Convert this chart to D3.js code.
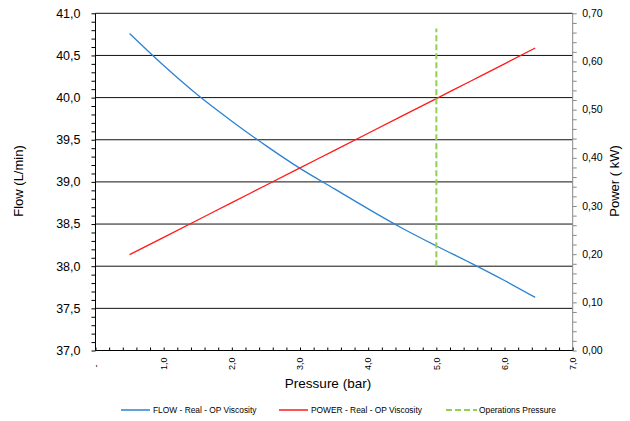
<!DOCTYPE html>
<html>
<head>
<meta charset="utf-8">
<script src="https://cdn.jsdelivr.net/npm/d3@7/dist/d3.min.js"></script>
<style>
  html, body { margin: 0; padding: 0; background: #fff; }
  svg { display: block; font-family: "Liberation Sans", Arial, sans-serif; }
</style>
</head>
<body>
<svg id="chart" width="630" height="421"></svg>
<script>
// ---- data ----
const pressure = [0.5, 1.0, 1.5, 2.0, 2.5, 3.0, 3.5, 4.0, 4.5, 5.0, 5.5, 6.0, 6.45];
const flow     = [40.76, 40.38, 40.03, 39.72, 39.43, 39.16, 38.92, 38.68, 38.45, 38.24, 38.04, 37.83, 37.63];
const power    = [0.199, 0.235, 0.271, 0.307, 0.343, 0.379, 0.415, 0.451, 0.487, 0.523, 0.559, 0.595, 0.628];
const opPressureX = [5.0, 5.0];
const opPressureY = [38.0, 40.82];
const xTicks = [0, 1, 2, 3, 4, 5, 6, 7];
const flowTicks = [37.0, 37.5, 38.0, 38.5, 39.0, 39.5, 40.0, 40.5, 41.0];
const powerTicks = [0.0, 0.1, 0.2, 0.3, 0.4, 0.5, 0.6, 0.7];
const seriesNames = ["FLOW - Real - OP Viscosity", "POWER - Real - OP Viscosity", "Operations Pressure"];
const xTitle = "Pressure (bar)";
const yTitle = "Flow (L/min)";
const y2Title = "Power ( kW)";

// ---- layout ----
const svg = d3.select("#chart");
const L = 95.5, R = 572.7, T = 13.3, B = 350.5;
const x = d3.scaleLinear().domain([0, 7]).range([L, R]);
const y = d3.scaleLinear().domain([37, 41]).range([B, T]);
const y2 = d3.scaleLinear().domain([0, 0.7]).range([B, T]);

const loc = d3.formatLocale({decimal: ",", thousands: ".", grouping: [3], currency: ["", ""]});
const f1 = loc.format(".1f"), f2 = loc.format(".2f");

const colFlow = "#2b83d3", colPower = "#ff1a1a", colOp = "#92d050";

// gridlines
svg.append("g").selectAll("line").data(flowTicks).join("line")
  .attr("x1", L).attr("x2", R)
  .attr("y1", d => y(d)).attr("y2", d => y(d))
  .attr("stroke", "#111").attr("stroke-width", 1);

// left axis
const gL = svg.append("g").attr("transform", `translate(${L},0)`);
gL.call(d3.axisLeft(y).tickValues(d3.range(37, 41.0001, 0.1)).tickSize(4).tickFormat(""));
gL.call(g => g.select(".domain").remove());
gL.append("line").attr("y1", T).attr("y2", B).attr("stroke", "#000");
gL.selectAll(".tick line").attr("stroke", "#000");
gL.selectAll(".lbl").data(flowTicks).join("text").attr("class", "lbl")
  .attr("x", -15).attr("y", d => y(d)).attr("dy", "0.35em")
  .attr("text-anchor", "end").attr("font-size", 12.5).attr("fill", "#000")
  .text(d => f1(d));

// right axis
const gR = svg.append("g").attr("transform", `translate(${R},0)`);
gR.call(d3.axisRight(y2).tickValues(d3.range(0, 0.70001, 0.02)).tickSize(4).tickFormat(""));
gR.call(g => g.select(".domain").remove());
gR.append("line").attr("y1", T).attr("y2", B).attr("stroke", "#888");
gR.selectAll(".tick line").attr("stroke", "#888");
gR.selectAll(".lbl").data(powerTicks).join("text").attr("class", "lbl")
  .attr("x", 9.5).attr("y", d => y2(d)).attr("dy", "0.35em")
  .attr("text-anchor", "start").attr("font-size", 10.5).attr("fill", "#000")
  .text(d => f2(d));

// bottom axis
const gB = svg.append("g").attr("transform", `translate(0,${B})`);
gB.call(d3.axisTop(x).tickValues(d3.range(0, 7.0001, 0.2)).tickSize(3).tickFormat(""));
gB.call(g => g.select(".domain").remove());
gB.append("line").attr("x1", L).attr("x2", R).attr("stroke", "#000");
gB.selectAll(".tick line").attr("stroke", "#000");
gB.selectAll(".lbl").data(xTicks).join("text").attr("class", "lbl")
  .attr("transform", d => `translate(${x(d)},${d === 0 ? 14 : 7}) rotate(-90)`)
  .attr("dy", "0.35em")
  .attr("text-anchor", "end").attr("font-size", 9).attr("fill", "#000")
  .text(d => d === 0 ? "-" : f1(d));

// series lines
const pts = pressure.map((p, i) => ({p, f: flow[i], w: power[i]}));
svg.append("path").datum(pts)
  .attr("fill", "none").attr("stroke", colFlow).attr("stroke-width", 1.3)
  .attr("d", d3.line().x(d => x(d.p)).y(d => y(d.f)).curve(d3.curveMonotoneX));
svg.append("path").datum(pts)
  .attr("fill", "none").attr("stroke", colPower).attr("stroke-width", 1.3)
  .attr("d", d3.line().x(d => x(d.p)).y(d => y2(d.w)).curve(d3.curveMonotoneX));
svg.append("path").datum(opPressureX.map((v, i) => [v, opPressureY[i]]))
  .attr("fill", "none").attr("stroke", colOp).attr("stroke-width", 2)
  .attr("stroke-dasharray", "6,3")
  .attr("d", d3.line().x(d => x(d[0])).y(d => y(d[1])));

// axis titles
svg.append("text").attr("x", 328).attr("y", 388).attr("text-anchor", "middle")
  .attr("font-size", 13.5).text(xTitle);
svg.append("text").attr("transform", "translate(23,181) rotate(-90)").attr("text-anchor", "middle")
  .attr("font-size", 13).text(yTitle);
svg.append("text").attr("transform", "translate(619,181) rotate(-90)").attr("text-anchor", "middle")
  .attr("font-size", 13).text(y2Title);

// legend
const legendX = [121, 279, 446];
const legendColors = [colFlow, colPower, colOp];
const lg = svg.append("g");
seriesNames.forEach((name, i) => {
  const gx = legendX[i];
  lg.append("line").attr("x1", gx).attr("x2", gx + (i === 2 ? 31 : 29)).attr("y1", 410).attr("y2", 410)
    .attr("stroke", legendColors[i]).attr("stroke-width", i === 2 ? 2 : 1.5)
    .attr("stroke-dasharray", i === 2 ? "6,3" : null);
  lg.append("text").attr("x", gx + (i === 2 ? 33 : 32)).attr("y", 410).attr("dy", "0.35em")
    .attr("font-size", 8.4).text(name);
});
</script>
</body>
</html>
